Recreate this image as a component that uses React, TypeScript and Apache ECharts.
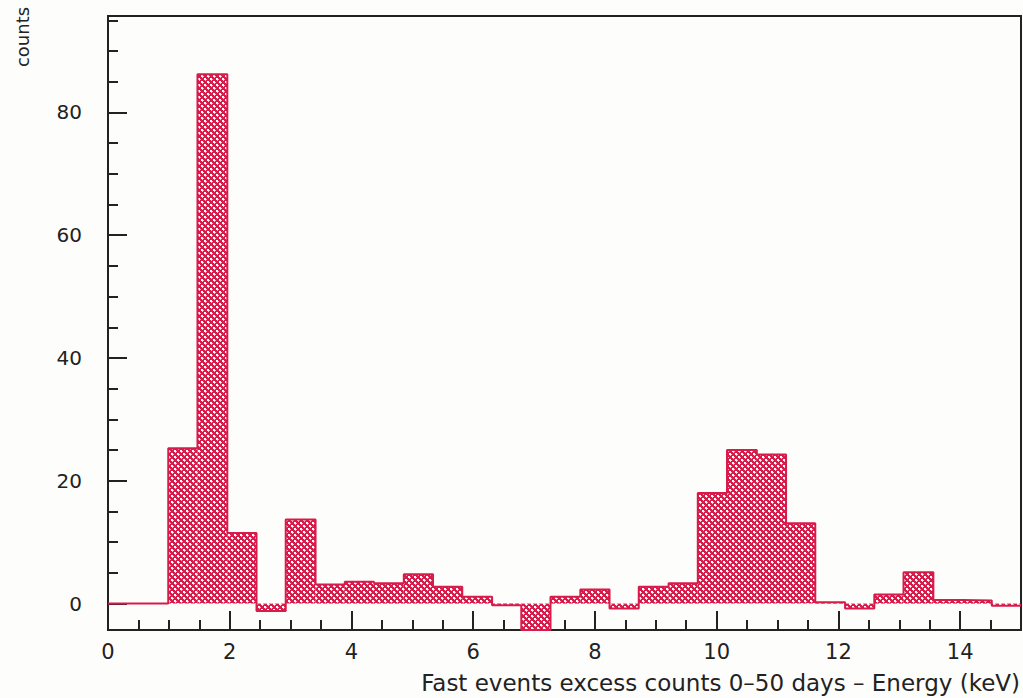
import React, { useEffect, useRef } from "react";
import * as echarts from "echarts";

// Histogram bin edges (keV) and counts
const binEdges = [
  0.99, 1.47, 1.96, 2.44, 2.92, 3.41, 3.89, 4.37, 4.86, 5.34, 5.82, 6.31, 6.79, 7.27, 7.76,
  8.24, 8.72, 9.21, 9.69, 10.17, 10.66, 11.14, 11.62, 12.11, 12.59, 13.07, 13.56, 14.04, 14.52, 15.0,
];
const counts = [
  25.3, 86.2, 11.5, -1.2, 13.7, 3.1, 3.55, 3.3, 4.8, 2.75, 1.1, -0.25, -4.3, 1.1, 2.3,
  -0.8, 2.75, 3.3, 18.0, 25.0, 24.3, 13.1, 0.2, -0.8, 1.5, 5.1, 0.57, 0.5, -0.35,
];

const xMajorTicks = [0, 2, 4, 6, 8, 10, 12, 14];
const xMinorTicks = [
  0.5, 1, 1.5, 2.5, 3, 3.5, 4.5, 5, 5.5, 6.5, 7, 7.5, 8.5, 9, 9.5, 10.5, 11, 11.5, 12.5, 13, 13.5, 14.5,
];
const yMajorTicks = [0, 20, 40, 60, 80];
const yMinorTicks = [5, 10, 15, 25, 30, 35, 45, 50, 55, 65, 70, 75, 85, 90, 95];

const X_MIN = 0;
const X_MAX = 15;
const Y_MIN = -4.3;
const Y_MAX = 95.7;

const RED = "#d61c4b";
const INK = "#222222";
const FONT = "DejaVu Sans";

function makePattern() {
  const c = document.createElement("canvas");
  c.width = 6;
  c.height = 6;
  const ctx = c.getContext("2d")!;
  ctx.fillStyle = RED;
  ctx.fillRect(0, 0, 6, 6);
  ctx.fillStyle = "#ffffff";
  ctx.fillRect(0, 0, 2, 2);
  ctx.fillRect(3, 3, 2, 2);
  ctx.fillStyle = "#f6b3c3";
  ctx.fillRect(2, 1, 1, 1);
  ctx.fillRect(1, 2, 1, 1);
  ctx.fillRect(5, 4, 1, 1);
  ctx.fillRect(4, 5, 1, 1);
  return c;
}

export default function App() {
  const ref = useRef<HTMLDivElement>(null);

  useEffect(() => {
    if (!ref.current) return;
    const chart = echarts.init(ref.current, undefined, { renderer: "svg" });
    const pattern = makePattern();

    const binData = counts.map((v, i) => [binEdges[i], binEdges[i + 1], v]);
    const outline: number[][] = [[X_MIN, 0], [binEdges[0], 0]];
    counts.forEach((v, i) => {
      outline.push([binEdges[i], v]);
      outline.push([binEdges[i + 1], v]);
    });

    const tickStyle = { color: INK, width: 2 };

    chart.setOption({
      animation: false,
      backgroundColor: "#fdfdfb",
      grid: {
        left: 108,
        right: 2,
        top: 16,
        bottom: 68,
        show: true,
        borderColor: INK,
        borderWidth: 2,
      },
      xAxis: [
        {
          type: "value",
          min: X_MIN,
          max: X_MAX,
          position: "bottom",
          axisLine: { show: true, onZero: false, lineStyle: { color: INK, width: 2 } },
          axisTick: { show: true, inside: true, length: 19, lineStyle: tickStyle, customValues: xMajorTicks },
          axisLabel: {
            show: true,
            customValues: xMajorTicks,
            margin: 11,
            fontSize: 21,
            color: INK,
            fontFamily: FONT,
          },
          splitLine: { show: false },
        },
        {
          type: "value",
          min: X_MIN,
          max: X_MAX,
          position: "bottom",
          axisLine: { show: false, onZero: false },
          axisTick: { show: true, inside: true, length: 10, lineStyle: tickStyle, customValues: xMinorTicks },
          axisLabel: { show: false },
          splitLine: { show: false },
        },
      ],
      yAxis: [
        {
          type: "value",
          min: Y_MIN,
          max: Y_MAX,
          position: "left",
          axisLine: { show: true, onZero: false, lineStyle: { color: INK, width: 2 } },
          axisTick: { show: true, inside: true, length: 19, lineStyle: tickStyle, customValues: yMajorTicks },
          axisLabel: {
            show: true,
            customValues: yMajorTicks,
            margin: 26,
            fontSize: 20,
            color: INK,
            fontFamily: FONT,
          },
          splitLine: { show: false },
        },
        {
          type: "value",
          min: Y_MIN,
          max: Y_MAX,
          position: "left",
          axisLine: { show: false, onZero: false },
          axisTick: { show: true, inside: true, length: 10, lineStyle: tickStyle, customValues: yMinorTicks },
          axisLabel: { show: false },
          splitLine: { show: false },
        },
      ],
      series: [
        {
          type: "custom",
          xAxisIndex: 0,
          yAxisIndex: 0,
          encode: { x: [0, 1], y: 2 },
          data: binData,
          renderItem: (params: any, api: any) => {
            const x0 = api.value(0);
            const x1 = api.value(1);
            const v = api.value(2);
            const p0 = api.coord([x0, 0]);
            const p1 = api.coord([x1, v]);
            return {
              type: "rect",
              shape: {
                x: p0[0],
                y: Math.min(p0[1], p1[1]),
                width: p1[0] - p0[0],
                height: Math.abs(p1[1] - p0[1]),
              },
              style: { fill: { image: pattern, repeat: "repeat" } },
            };
          },
          z: 2,
        },
        {
          type: "line",
          xAxisIndex: 0,
          yAxisIndex: 0,
          data: outline,
          symbol: "none",
          lineStyle: { color: RED, width: 2 },
          z: 3,
        },
      ],
      graphic: [
        {
          type: "text",
          x: 1020,
          y: 683,
          style: {
            text: "Fast events excess counts 0–50 days – Energy (keV)",
            textAlign: "right",
            textVerticalAlign: "middle",
            fontSize: 23,
            fontFamily: FONT,
            fill: INK,
          },
        },
        {
          type: "text",
          x: 22,
          y: 37,
          rotation: Math.PI / 2,
          style: {
            text: "counts",
            textAlign: "center",
            textVerticalAlign: "middle",
            fontSize: 18,
            fontFamily: FONT,
            fill: INK,
          },
        },
      ],
    });

    return () => chart.dispose();
  }, []);

  return (
    <div
      ref={ref}
      style={{ position: "fixed", left: 0, top: 0, width: 1023, height: 698 }}
    />
  );
}
